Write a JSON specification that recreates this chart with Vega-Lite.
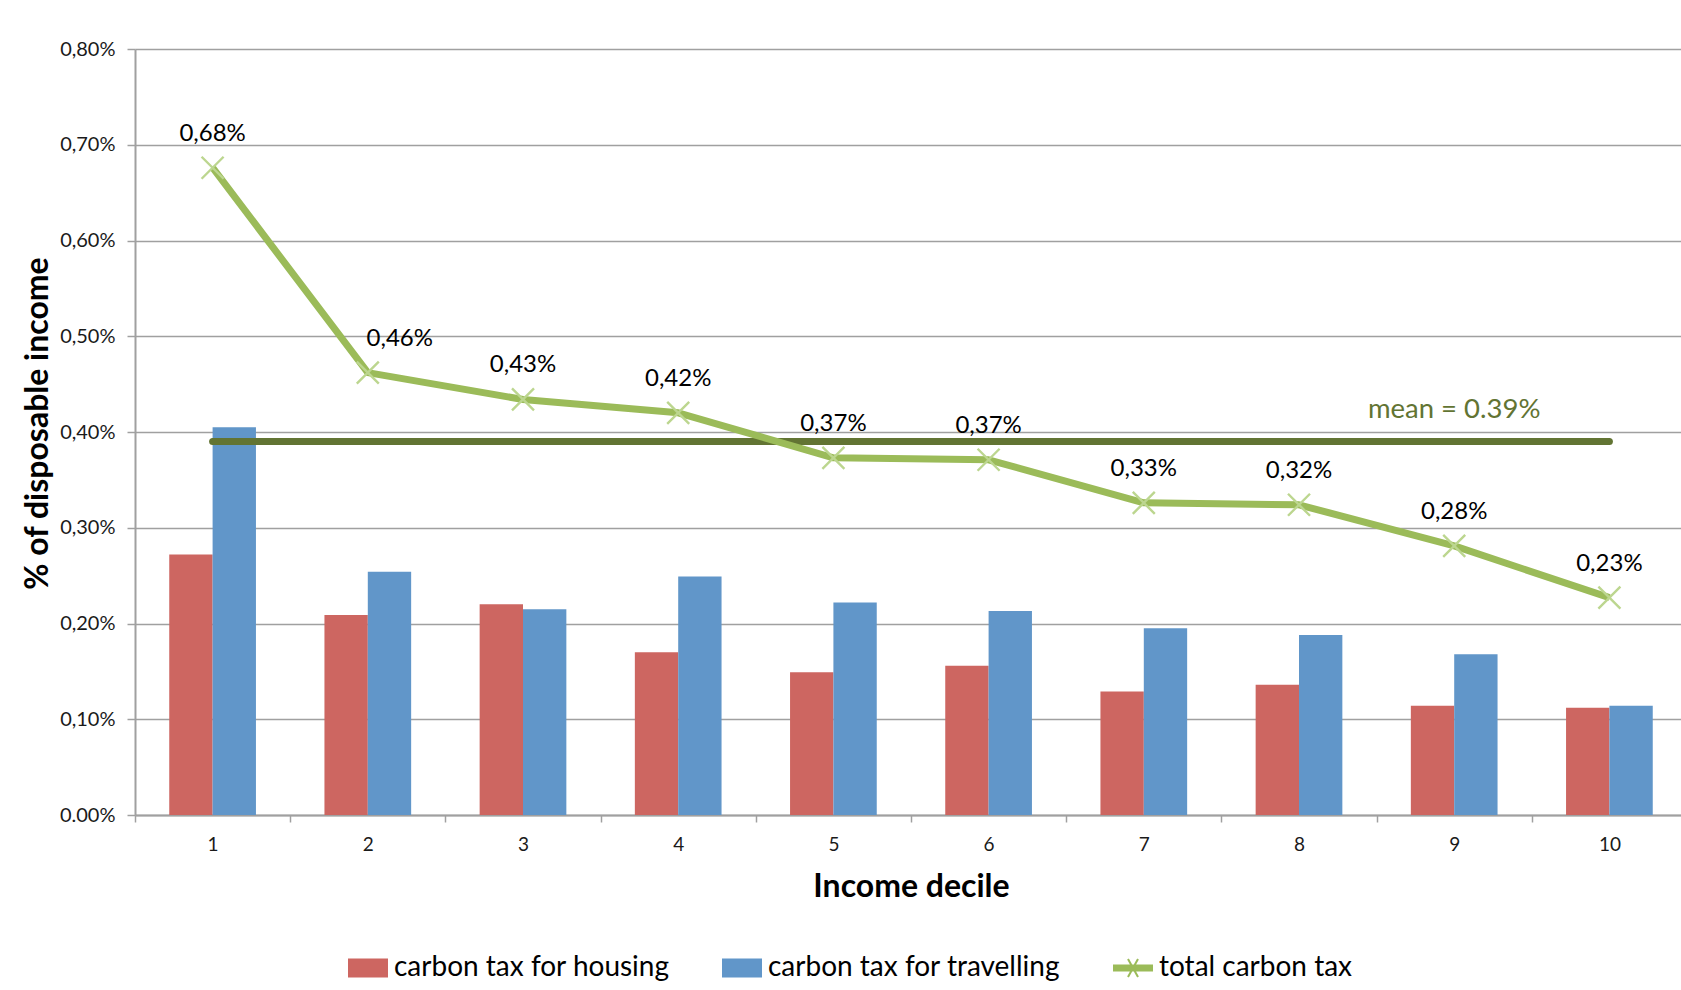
{
  "$schema": "https://vega.github.io/schema/vega-lite/v6.json",
  "width": 1552,
  "height": 766,
  "autosize": {"type": "none"},
  "padding": {"left": 135, "top": 49, "right": -6, "bottom": 175},
  "background": "white",
  "datasets": {
    "bars": [
      {"decile": 1, "series": "carbon tax for housing", "value": 0.00272},
      {"decile": 1, "series": "carbon tax for travelling", "value": 0.00405},
      {"decile": 2, "series": "carbon tax for housing", "value": 0.00209},
      {"decile": 2, "series": "carbon tax for travelling", "value": 0.00254},
      {"decile": 3, "series": "carbon tax for housing", "value": 0.00220},
      {"decile": 3, "series": "carbon tax for travelling", "value": 0.00215},
      {"decile": 4, "series": "carbon tax for housing", "value": 0.00170},
      {"decile": 4, "series": "carbon tax for travelling", "value": 0.00249},
      {"decile": 5, "series": "carbon tax for housing", "value": 0.00149},
      {"decile": 5, "series": "carbon tax for travelling", "value": 0.00222},
      {"decile": 6, "series": "carbon tax for housing", "value": 0.00156},
      {"decile": 6, "series": "carbon tax for travelling", "value": 0.00213},
      {"decile": 7, "series": "carbon tax for housing", "value": 0.00129},
      {"decile": 7, "series": "carbon tax for travelling", "value": 0.00195},
      {"decile": 8, "series": "carbon tax for housing", "value": 0.00136},
      {"decile": 8, "series": "carbon tax for travelling", "value": 0.00188},
      {"decile": 9, "series": "carbon tax for housing", "value": 0.00114},
      {"decile": 9, "series": "carbon tax for travelling", "value": 0.00168},
      {"decile": 10, "series": "carbon tax for housing", "value": 0.00112},
      {"decile": 10, "series": "carbon tax for travelling", "value": 0.00114}
    ],
    "total": [
      {"decile": 1, "total": 0.00676},
      {"decile": 2, "total": 0.00462},
      {"decile": 3, "total": 0.00434},
      {"decile": 4, "total": 0.00420},
      {"decile": 5, "total": 0.00373},
      {"decile": 6, "total": 0.00371},
      {"decile": 7, "total": 0.00326},
      {"decile": 8, "total": 0.00324},
      {"decile": 9, "total": 0.00281},
      {"decile": 10, "total": 0.00227}
    ],
    "mean": [
      {"decile": 1, "mean": 0.0039},
      {"decile": 10, "mean": 0.0039}
    ],
    "meanLabel": [
      {"decile": 9, "mean": 0.0039, "label": "mean = 0.39%"}
    ]
  },
  "encoding": {
    "x": {
      "field": "decile",
      "type": "ordinal",
      "scale": {"paddingInner": 0, "paddingOuter": 0},
      "axis": {
        "title": "Income decile",
        "titleFont": "Lato",
        "titleFontSize": 32,
        "titleFontWeight": "bold",
        "titleColor": "#000000",
        "titlePadding": 17,
        "labelAngle": 0,
        "labelFont": "Lato",
        "labelFontSize": 19,
        "labelColor": "#1a1a1a",
        "labelPadding": 13,
        "tickBand": "extent",
        "tickSize": 7,
        "tickColor": "#a0a0a0",
        "tickWidth": 1.5,
        "domainColor": "#a0a0a0",
        "domainWidth": 2,
        "grid": false
      }
    }
  },
  "layer": [
    {
      "data": {"name": "bars"},
      "mark": {"type": "bar"},
      "encoding": {
        "xOffset": {"field": "series", "type": "nominal", "scale": {"paddingInner": 0, "paddingOuter": 0.79}},
        "y": {
          "field": "value",
          "type": "quantitative",
          "scale": {"domain": [0, 0.008], "nice": false},
          "axis": {
            "title": "% of disposable income",
            "titleFont": "Lato",
            "titleFontSize": 32,
            "titleFontWeight": "bold",
            "titleColor": "#000000",
            "titleX": -98,
            "titleY": 374,
            "titleBaseline": "middle",
            "values": [0, 0.001, 0.002, 0.003, 0.004, 0.005, 0.006, 0.007, 0.008],
            "format": ".2%",
            "labelExpr": "datum.value == 0 ? '0.00%' : datum.label",
            "labelFont": "Lato",
            "labelFontSize": 20,
            "labelColor": "#1a1a1a",
            "labelPadding": 12,
            "tickSize": 8,
            "tickColor": "#a0a0a0",
            "tickWidth": 1.5,
            "domainColor": "#a0a0a0",
            "domainWidth": 2,
            "grid": true,
            "gridColor": "#a0a0a0",
            "gridWidth": 1.6
          }
        },
        "color": {
          "field": "series",
          "type": "nominal",
          "scale": {
            "domain": ["carbon tax for housing", "carbon tax for travelling", "total carbon tax"],
            "range": ["#cd6661", "#6196c9", "#9bbb59"]
          },
          "legend": {
            "title": null,
            "orient": "none",
            "direction": "horizontal",
            "legendX": 213,
            "legendY": 899,
            "labelFont": "Lato",
            "labelFontSize": 28,
            "labelColor": "#000000",
            "labelOffset": 6,
            "labelLimit": 400,
            "columnPadding": 52,
            "symbolSize": 1600,
            "symbolOpacity": 1,
            "encode": {
              "symbols": {
                "update": {
                  "shape": {"signal": "datum.value === 'total carbon tax' ? 'M-1,-0.175H1V0.175H-1Z M-0.294,-0.426L-0.206,-0.474L0.294,0.426L0.206,0.474Z M-0.294,0.426L0.206,-0.474L0.294,-0.426L-0.206,0.474Z' : 'M-1,-0.47H1V0.47H-1Z'"},
                  "fill": {"signal": "scale('color', datum.value)"},
                  "stroke": {"value": "transparent"},
                  "strokeWidth": {"value": 0},
                  "opacity": {"value": 1}
                }
              }
            }
          }
        }
      }
    },
    {
      "data": {"name": "mean"},
      "mark": {"type": "line", "color": "#627433", "strokeWidth": 7, "strokeCap": "round"},
      "encoding": {
        "y": {"field": "mean", "type": "quantitative"}
      }
    },
    {
      "data": {"name": "meanLabel"},
      "mark": {"type": "text", "font": "Lato", "fontSize": 27.5, "color": "#627433", "baseline": "middle", "align": "center", "dy": -32},
      "encoding": {
        "y": {"field": "mean", "type": "quantitative"},
        "text": {"field": "label"}
      }
    },
    {
      "data": {"name": "total"},
      "mark": {"type": "line", "strokeWidth": 7, "strokeJoin": "round"},
      "encoding": {
        "y": {"field": "total", "type": "quantitative"},
        "color": {"datum": "total carbon tax"}
      }
    },
    {
      "data": {"name": "total"},
      "mark": {"type": "point", "shape": "M-1,-1L1,1M-1,1L1,-1", "filled": false, "size": 484, "stroke": "#bcd68f", "strokeWidth": 2.4, "opacity": 1},
      "encoding": {
        "y": {"field": "total", "type": "quantitative"}
      }
    },
    {
      "data": {"name": "total"},
      "transform": [{"filter": "datum.decile != 2"}],
      "mark": {"type": "text", "font": "Lato", "fontSize": 24, "color": "#000000", "baseline": "middle", "align": "center", "dy": -34},
      "encoding": {
        "y": {"field": "total", "type": "quantitative"},
        "text": {"field": "total", "type": "quantitative", "format": ".2%"}
      }
    },
    {
      "data": {"name": "total"},
      "transform": [{"filter": "datum.decile == 2"}],
      "mark": {"type": "text", "font": "Lato", "fontSize": 24, "color": "#000000", "baseline": "middle", "align": "center", "dy": -34, "dx": 32},
      "encoding": {
        "y": {"field": "total", "type": "quantitative"},
        "text": {"field": "total", "type": "quantitative", "format": ".2%"}
      }
    }
  ],
  "config": {
    "locale": {
      "number": {"decimal": ",", "thousands": ".", "grouping": [3], "currency": ["", " €"]}
    },
    "view": {"stroke": null}
  }
}
